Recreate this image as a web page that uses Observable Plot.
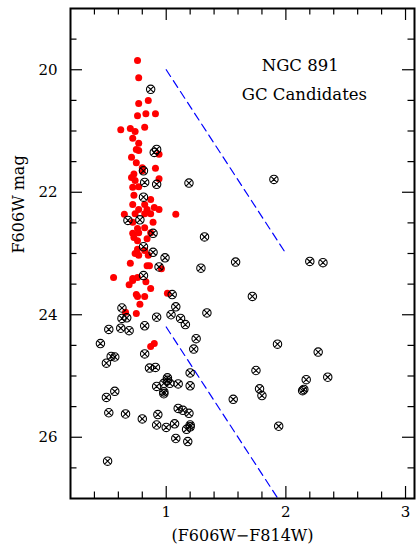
<!DOCTYPE html>
<html><head><meta charset="utf-8">
<script src="https://cdn.jsdelivr.net/npm/d3@7"></script>
<script src="https://cdn.jsdelivr.net/npm/@observablehq/plot@0.6"></script>
<style>body{margin:0;background:#fff}#chart{width:417px;height:550px}</style>
</head><body><div id="chart"></div>
<script>
// Red filled points (colour, magnitude)
const redColor = [0.76,0.77,0.77,0.85,0.76,0.83,0.91,0.62,0.70,0.74,0.82,0.72,0.77,0.75,0.77,0.71,0.75,0.94,0.91,0.80,0.73,0.80,0.71,0.74,0.94,0.72,0.77,0.73,0.87,0.72,0.82,0.90,0.94,0.77,0.84,0.65,0.74,0.82,0.87,1.08,0.89,0.72,0.76,0.82,0.72,0.77,0.87,0.73,0.76,0.84,0.82,0.76,0.74,0.77,0.85,0.70,0.84,0.86,0.96,0.56,0.72,0.76,0.69,0.72,0.83,0.87,0.75,1.01,0.76,0.82,0.78,0.75,0.66,0.87,0.90];
const redMag   = [19.85,20.13,20.55,20.50,20.75,20.72,20.72,20.98,20.96,21.01,20.94,21.12,21.20,21.30,21.32,21.43,21.52,21.38,21.61,21.60,21.70,21.65,21.76,21.81,21.78,21.92,21.91,22.05,22.12,22.20,22.20,22.25,22.28,22.28,22.28,22.36,22.35,22.35,22.35,22.36,22.49,22.49,22.59,22.58,22.67,22.66,22.66,22.74,22.79,22.76,22.95,22.93,23.00,23.03,23.03,23.16,23.20,23.20,23.25,23.39,23.41,23.39,23.51,23.44,23.46,23.57,23.67,23.65,23.70,23.70,23.83,23.98,23.96,24.52,24.47];
// GC candidates (open circle with cross)
const gcColor = [0.87,0.92,0.90,0.81,0.82,0.92,1.19,0.81,1.90,0.68,0.78,0.89,1.32,0.81,0.89,0.99,0.94,1.29,1.58,2.20,2.31,0.81,1.05,1.72,1.08,0.63,0.63,0.67,0.92,1.04,1.12,1.16,1.34,0.52,0.62,0.69,0.82,1.25,1.23,0.45,0.82,0.54,0.57,0.50,0.86,0.91,1.20,1.01,1.93,2.27,1.75,2.35,2.17,1.78,1.80,1.56,2.14,2.15,0.92,0.98,1.01,1.03,1.10,1.20,0.98,0.98,0.50,0.57,0.52,0.66,0.80,0.93,0.92,1.00,1.07,1.10,1.14,1.19,1.20,1.17,1.08,1.18,0.51,1.94,1.20];
const gcMag   = [20.32,21.30,21.35,21.65,21.84,21.87,21.85,22.08,21.79,22.46,22.45,22.67,22.73,22.89,22.98,23.07,23.22,23.24,23.14,23.13,23.15,23.36,23.67,23.70,23.87,23.89,24.06,24.05,24.04,24.00,24.06,24.16,23.97,24.24,24.22,24.26,24.18,24.39,24.56,24.47,24.64,24.68,24.69,24.79,24.87,24.86,24.95,25.03,24.48,24.61,24.91,25.02,25.06,25.21,25.32,25.38,25.24,25.22,25.17,25.12,25.07,25.12,25.13,25.16,25.26,25.29,25.35,25.25,25.60,25.62,25.70,25.63,25.80,25.84,25.78,25.53,25.56,25.61,25.80,25.87,26.02,26.07,26.39,25.82,25.83];
// Dashed selection lines
const upperLineColor = [1.0, 2.0];
const upperLineMag   = [20.0, 23.0];
const lowerLineColor = [1.0, 1.93];
const lowerLineMag   = [24.2, 26.99];
// Ticks and labels
const xTickLabels = [1, 2, 3];
const yTickLabels = [20, 22, 24, 26];
const xMinorTicks = [0.4,0.6,0.8,1.2,1.4,1.6,1.8,2.2,2.4,2.6,2.8];
const yMinorTicks = [19.5,20.5,21,21.5,22.5,23,23.5,24.5,25,25.5,26.5];
const title1 = "NGC 891";
const title2 = "GC Candidates";
const xLabel = "(F606W\u2212F814W)";
const yLabel = "F606W mag";

const red = redColor.map((c, i) => ({c, m: redMag[i]}));
const gc = gcColor.map((c, i) => ({c, m: gcMag[i]}));
const upper = upperLineColor.map((c, i) => ({c, m: upperLineMag[i]}));
const lower = lowerLineColor.map((c, i) => ({c, m: lowerLineMag[i]}));

const otimes = {
  draw(ctx, size) {
    const r = Math.sqrt(size / Math.PI);
    ctx.moveTo(r, 0);
    ctx.arc(0, 0, r, 0, 2 * Math.PI);
    const d = r / Math.SQRT2;
    ctx.moveTo(-d, -d); ctx.lineTo(d, d);
    ctx.moveTo(-d, d); ctx.lineTo(d, -d);
  }
};

const W = 417, H = 550, ML = 70, MR = 3, MT = 8, MB = 52;
const innerW = W - ML - MR, innerH = H - MT - MB;
const MAJ = 12, MIN = 6.5;
const font = "DejaVu Serif";

const chart = Plot.plot({
  width: W, height: H,
  marginLeft: ML, marginRight: MR, marginTop: MT, marginBottom: MB,
  x: {domain: [0.2, 3.075], axis: null},
  y: {domain: [27, 19], axis: null},
  style: {fontFamily: font, background: "white", overflow: "visible"},
  marks: [
    Plot.ruleX(xTickLabels, {x: d => d, insetTop: innerH - MAJ, stroke: "black", strokeWidth: 1.2}),
    Plot.ruleX(xTickLabels, {x: d => d, insetBottom: innerH - MAJ, stroke: "black", strokeWidth: 1.2}),
    Plot.ruleX(xMinorTicks, {x: d => d, insetTop: innerH - MIN, stroke: "black", strokeWidth: 1.2}),
    Plot.ruleX(xMinorTicks, {x: d => d, insetBottom: innerH - MIN, stroke: "black", strokeWidth: 1.2}),
    Plot.ruleY(yTickLabels, {y: d => d, insetRight: innerW - MAJ, stroke: "black", strokeWidth: 1.2}),
    Plot.ruleY(yTickLabels, {y: d => d, insetLeft: innerW - MAJ, stroke: "black", strokeWidth: 1.2}),
    Plot.ruleY(yMinorTicks, {y: d => d, insetRight: innerW - MIN, stroke: "black", strokeWidth: 1.2}),
    Plot.ruleY(yMinorTicks, {y: d => d, insetLeft: innerW - MIN, stroke: "black", strokeWidth: 1.2}),
    Plot.line(upper, {x: "c", y: "m", stroke: "#0000ff", strokeWidth: 1.2, strokeDasharray: "8,5", clip: true}),
    Plot.line(lower, {x: "c", y: "m", stroke: "#0000ff", strokeWidth: 1.2, strokeDasharray: "8,5", clip: true}),
    Plot.dot(red, {x: "c", y: "m", r: 3.5, fill: "#ff0000", stroke: "none"}),
    Plot.dot(gc, {x: "c", y: "m", r: 4.2, symbol: otimes, fill: "none", stroke: "black", strokeWidth: 1.1}),
    Plot.text([title1], {x: 2.12, y: 19.93, text: d => d, fontSize: 16.5, fontFamily: font, fill: "black"}),
    Plot.text([title2], {x: 2.155, y: 20.40, text: d => d, fontSize: 16.5, fontFamily: font, fill: "black"}),
    Plot.text(xTickLabels, {x: d => d, frameAnchor: "bottom", dy: 18, text: d => String(d), fontSize: 15, fontFamily: font, fill: "black"}),
    Plot.text(yTickLabels, {y: d => d, frameAnchor: "left", dx: -13, textAnchor: "end", text: d => String(d), fontSize: 15, fontFamily: font, fill: "black"}),
    Plot.text([xLabel], {frameAnchor: "bottom", dy: 42, text: d => d, fontSize: 16, fontFamily: font, fill: "black"}),
    Plot.text([yLabel], {frameAnchor: "left", dx: -52, rotate: -90, text: d => d, fontSize: 16, fontFamily: font, fill: "black"}),
    Plot.frame({stroke: "black", strokeWidth: 2})
  ]
});
document.getElementById("chart").appendChild(chart);
</script>
</body></html>
